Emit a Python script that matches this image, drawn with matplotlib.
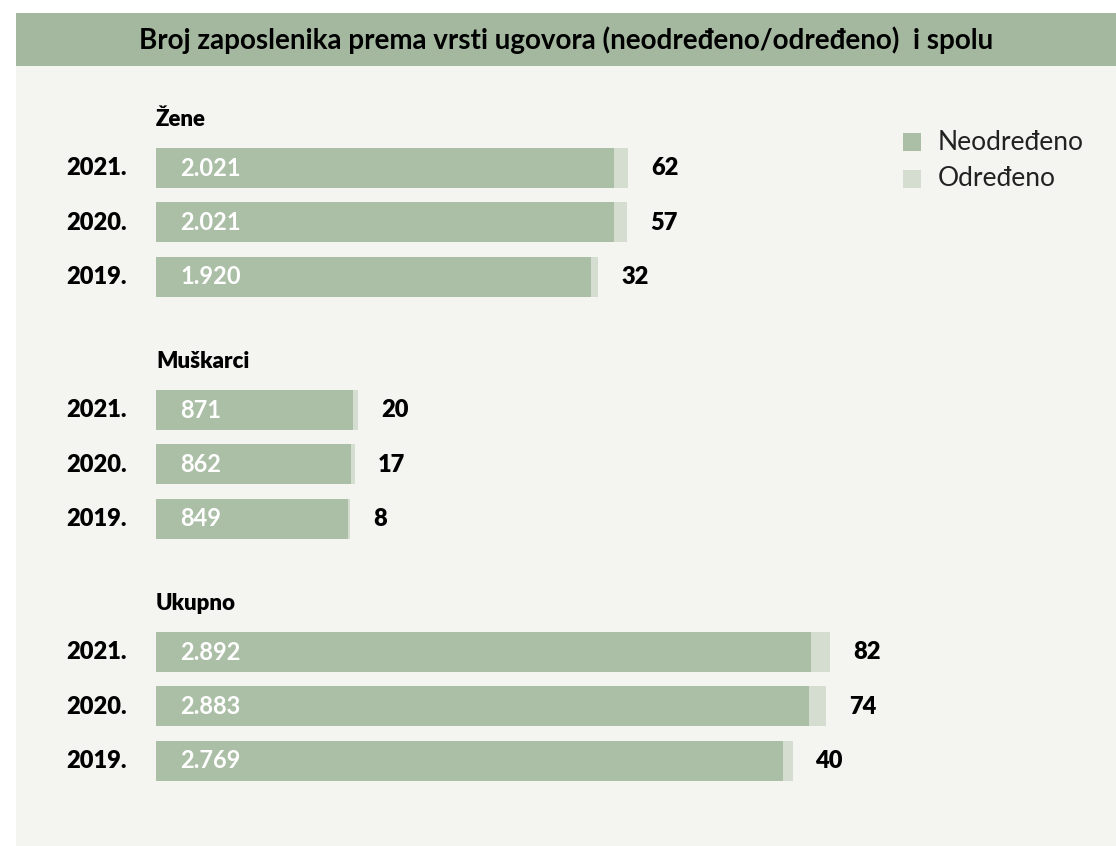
import matplotlib.pyplot as plt
from matplotlib.patches import Rectangle

# podaci po skupinama (neodređeno / određeno)
skupine = ['Žene', 'Muškarci', 'Ukupno']
godine = ['2021.', '2020.', '2019.']
neodredeno = [[2021, 2021, 1920], [871, 862, 849], [2892, 2883, 2769]]
odredeno = [[62, 57, 32], [20, 17, 8], [82, 74, 40]]
oznake_neodredeno = [['2.021', '2.021', '1.920'], ['871', '862', '849'], ['2.892', '2.883', '2.769']]

boja_tamna = '#abbea6'
boja_svijetla = '#d5ddd1'
boja_naslova = '#a4b8a0'
boja_pozadine = '#f4f5f0'
font = ['Lato', 'DejaVu Sans']

W, H = 1116, 846
fig = plt.figure(figsize=(W / 100, H / 100), dpi=100)
fig.patch.set_facecolor('white')

# pozadina i traka naslova (u pikselima)
fig.patches.append(Rectangle((16 / W, 0), 1 - 16 / W, 1 - 66 / H, transform=fig.transFigure,
                             facecolor=boja_pozadine, edgecolor='none', zorder=0))
fig.patches.append(Rectangle((16 / W, 1 - 66 / H), 1 - 16 / W, 53 / H, transform=fig.transFigure,
                             facecolor=boja_naslova, edgecolor='none', zorder=0))
fig.text((16 + W) / 2 / W, 1 - 40 / H,
         'Broj zaposlenika prema vrsti ugovora (neodređeno/određeno)  i spolu',
         ha='center', va='center', fontsize=20, fontweight='bold', family=font)

# os preko cijele slike: x u broju zaposlenika, y u pikselima
ax = fig.add_axes([0, 0, 1, 1])
ax.set_zorder(2)
ax.set_facecolor('none')
skala = 0.2266
x0 = 156
ax.set_xlim(-x0 / skala, (W - x0) / skala)
ax.set_ylim(H, 0)
ax.axis('off')

vrh_skupine = [168, 410, 652]
korak = 54.5
visina = 40

for g, ime in enumerate(skupine):
    ax.text(0, vrh_skupine[g] - 48, ime, ha='left', va='center', fontsize=16,
            fontweight='heavy', family=font)
    for i, god in enumerate(godine):
        y = vrh_skupine[g] + i * korak
        n = neodredeno[g][i]
        o = odredeno[g][i]
        ax.barh(y, n, height=visina, color=boja_tamna, edgecolor='none')
        ax.barh(y, o, left=n, height=visina, color=boja_svijetla, edgecolor='none')
        ax.text(-90 / skala, y, god, ha='left', va='center', fontsize=17,
                fontweight='heavy', family=font)
        ax.text(24 / skala, y, oznake_neodredeno[g][i], ha='left', va='center',
                fontsize=17, fontweight='bold', color='white', family=font)
        ax.text(n + o + 23 / skala, y, str(o), ha='left', va='center', fontsize=17,
                fontweight='heavy', family=font)

# legenda
for j, (lbl, c) in enumerate([('Neodređeno', boja_tamna), ('Određeno', boja_svijetla)]):
    yl = 142 + j * 37
    fig.patches.append(Rectangle((903 / W, 1 - (yl + 9) / H), 18 / W, 18 / H,
                                 transform=fig.transFigure, facecolor=c,
                                 edgecolor='none', zorder=1))
    fig.text(938 / W, 1 - yl / H, lbl, ha='left', va='center', fontsize=19,
             family=font, color='#222222')

fig.savefig('out.png', dpi=100)
